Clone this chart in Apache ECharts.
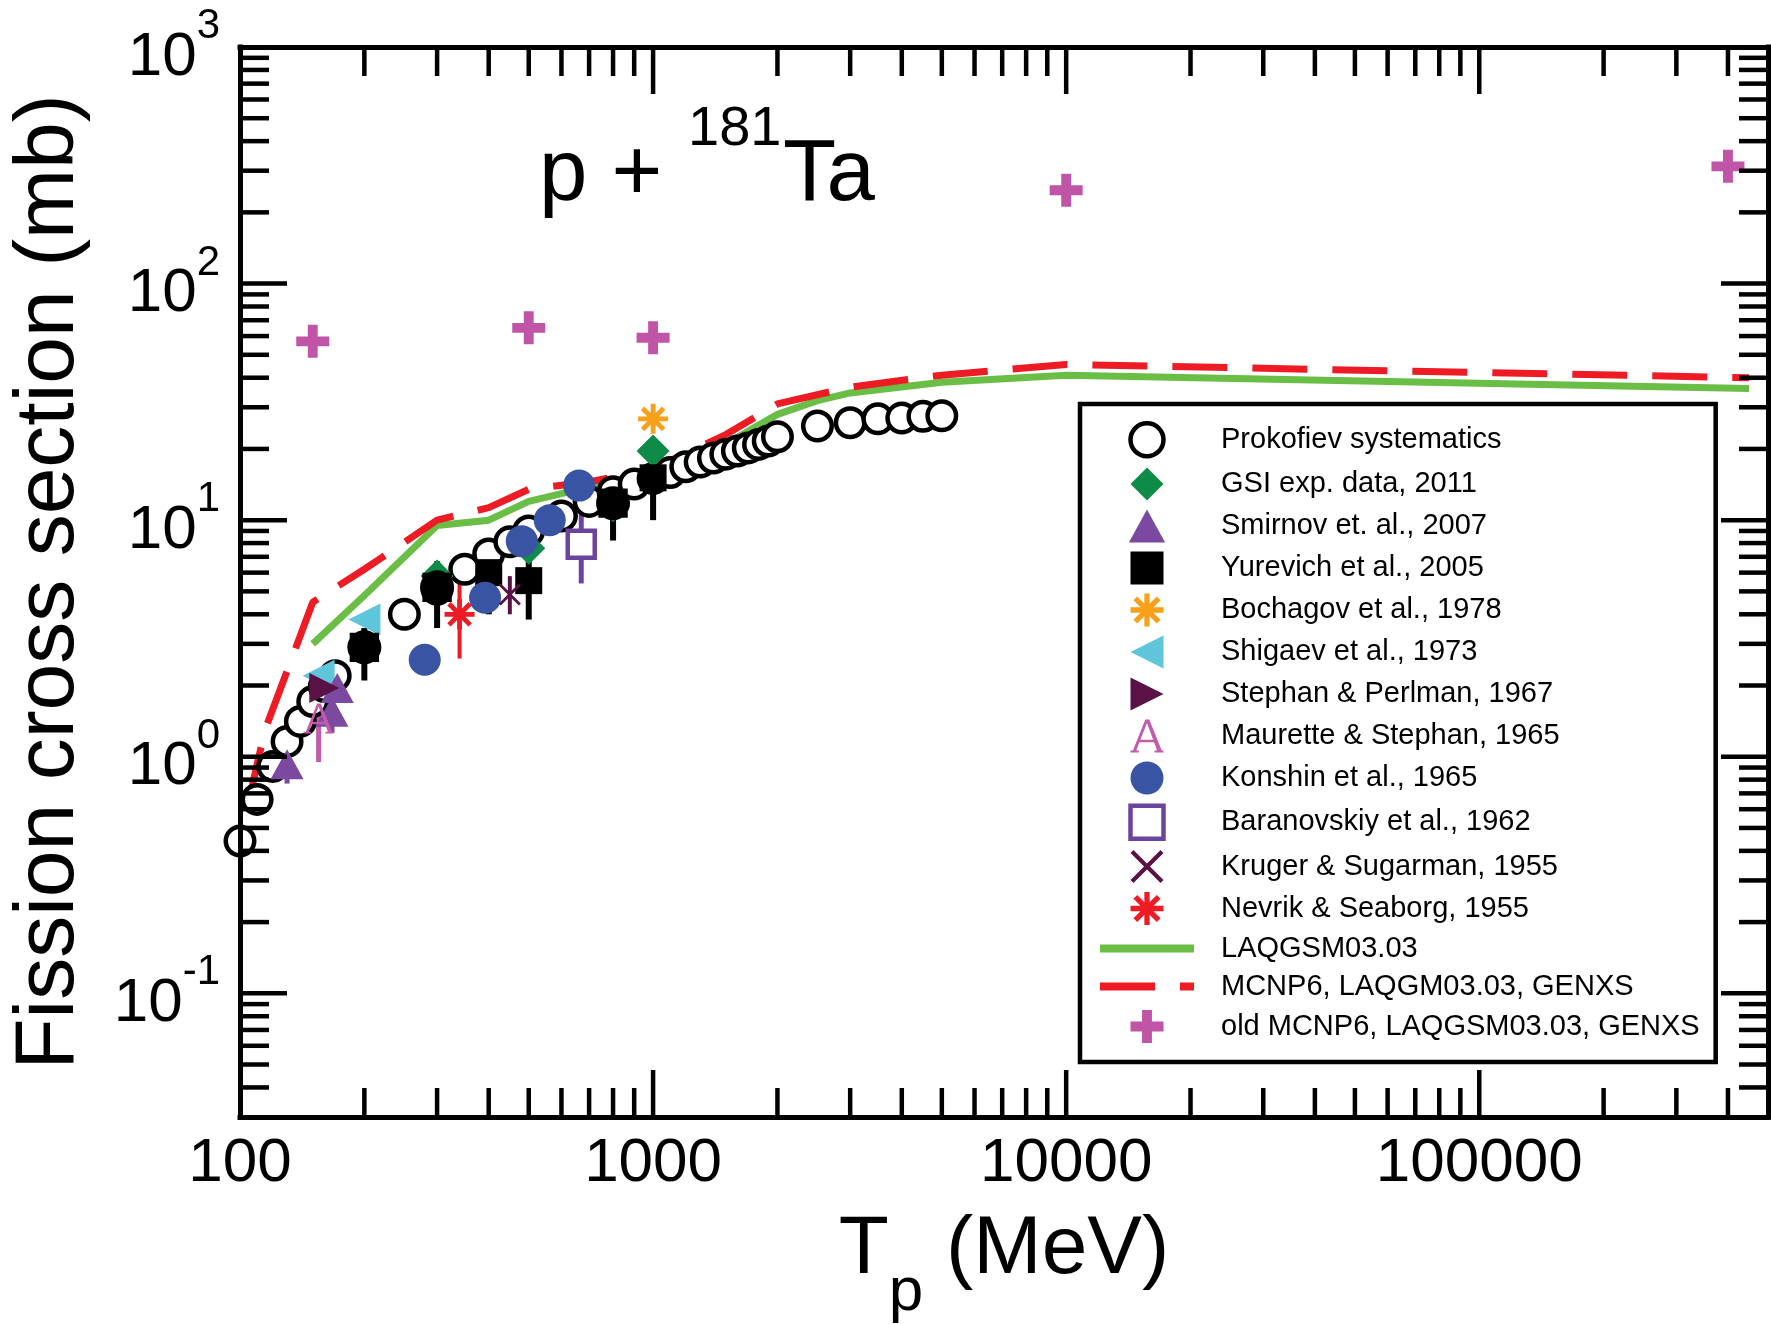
<!DOCTYPE html>
<html>
<head>
<meta charset="utf-8">
<script src="https://cdn.jsdelivr.net/npm/echarts@6/dist/echarts.min.js"></script>
<style>html,body{margin:0;padding:0;background:#fff}#c{width:1771px;height:1324px}</style>
</head>
<body>
<div id="c"></div>
<script>
// ---------------- data ----------------
const prokE  = [100,110,120,130,140,150,160,170,200,250,300,350,400,450,500,600,700,800,900,1000,1100,1200,1300,1400,1500,1600,1700,1800,1900,2000,2500,3000,3500,4000,4500,5000];
const prokXS = [0.44,0.66,0.91,1.16,1.41,1.71,1.98,2.2,2.9,4.0,5.1,6.2,7.2,8.1,9.0,10.4,12.0,13.2,14.2,15.0,15.9,16.8,17.6,18.3,19.0,19.6,20.2,20.9,21.6,22.5,25.0,25.8,26.8,27.0,27.5,27.6];

const gsiE  = [300,500,800,1000];
const gsiXS = [5.8,7.6,11.5,19.6];

const smirE  = [130,167,172];
const smirXS = [0.93,1.55,1.95];
const smirErrE = [130,167];
const smirLo   = [0.77,1.26];
const smirHi   = [1.12,1.85];

const yurE  = [200,300,400,500,800,1000];
const yurXS = [2.9,5.2,6.0,5.55,11.8,15.1];
const yurLo = [2.1,3.5,4.0,3.8,8.2,10.0];
const yurHi = [3.5,6.7,7.5,7.0,14.6,19.6];

const bochE  = [1000];
const bochXS = [26.8];

const shigE  = [155,200];
const shigXS = [2.2,3.8];

const stepE  = [160];
const stepXS = [1.95];

const maurE  = [155];
const maurXS = [1.45];
const maurLo = [0.95];
const maurHi = [2.2];

const konE  = [280,392,481,562,662];
const konXS = [2.57,4.7,8.15,10.0,14.0];

const barE  = [670];
const barXS = [7.9];
const barLo = [5.4];
const barHi = [10.6];

const kruE  = [450];
const kruXS = [4.85];
const kruLo = [4.0];
const kruHi = [5.8];

const nevE  = [340];
const nevXS = [4.0];
const nevLo = [2.6];
const nevHi = [5.5];

const laqE  = [150,200,300,400,500,700,1000,1500,2000,2500,3000,5000,10000,450000];
const laqXS = [3.0,4.8,9.5,10.0,12.0,13.8,15.0,21,28,32,34.5,38.3,41,36];

const mcnpE  = [105,115,130,150,200,300,400,500,700,1000,1500,2000,3000,5000,10000,450000];
const mcnpXS = [0.65,1.3,2.3,4.5,6.2,10,11.3,13.5,14.5,16.5,23,31,36.5,41,45.5,40];

const oldE  = [150,500,1000,10000,400000];
const oldXS = [57,65,59,248,313];

const xLabelValues = [100,1000,10000,100000];
const xMajorTicks = [1000,10000,100000];
const xMinorTicks = [200,300,400,500,600,700,800,900,2000,3000,4000,5000,6000,7000,8000,9000,
                     20000,30000,40000,50000,60000,70000,80000,90000,200000,300000,400000];
const yMajorTicks = [0.1,1,10,100];
const yMinorTicks = [0.04,0.05,0.06,0.07,0.08,0.09,0.2,0.3,0.4,0.5,0.6,0.7,0.8,0.9,
                     2,3,4,5,6,7,8,9,20,30,40,50,60,70,80,90,200,300,400,500,600,700,800,900];

const legendNames = ['Prokofiev systematics','GSI exp. data, 2011','Smirnov et. al., 2007','Yurevich et al., 2005',
  'Bochagov et al., 1978','Shigaev et al., 1973','Stephan & Perlman, 1967','Maurette & Stephan, 1965',
  'Konshin et al., 1965','Baranovskiy et al., 1962','Kruger & Sugarman, 1955','Nevrik & Seaborg, 1955',
  'LAQGSM03.03','MCNP6, LAQGM03.03, GENXS','old MCNP6, LAQGSM03.03, GENXS'];

// ---------------- helpers / styles ----------------
const FONT = "'Liberation Sans', Arial, Helvetica, sans-serif";
const pair = (xs, ys) => xs.map((x, i) => [x, ys[i]]);
const trip = (xs, lo, hi) => xs.map((x, i) => [x, lo[i], hi[i]]);

const P_AST = 'path://M0,42L100,42L100,58L0,58Z M42,0L58,0L58,100L42,100Z M9,20.3L20.3,9L91,79.7L79.7,91Z M79.7,9L91,20.3L20.3,91L9,79.7Z';
const P_X = 'path://M0,9L9,0L100,91L91,100Z M91,0L100,9L9,100L0,91Z';
const P_PLUS = 'path://M35,0L65,0L65,35L100,35L100,65L65,65L65,100L35,100L35,65L0,65L0,35L35,35Z';
const P_A = 'path://M45,0L54,0L15,100L5,100Z M46,0L57,0L97,100L83,100Z M24,61L76,61L76,69L24,69Z M0,94L25,94L25,100L0,100Z M73,94L100,94L100,100L73,100Z';
const P_BLOB = 'path://M50,6C74.3,6 94,25.7 94,50C94,74.3 74.3,94 50,94C25.7,94 6,74.3 6,50C6,25.7 25.7,6 50,6Z M12,12L88,12L88,88L12,88Z';
const P_DIAMOND = 'path://M50,0L100,50L50,100L0,50Z';
const P_TRI_UP = 'path://M55,0L110,100L0,100Z';
const P_TRI_LEFT = 'path://M0,50L100,0L100,100Z';
const P_TRI_RIGHT = 'path://M0,0L100,50L0,100Z';
const P_SQUARE = 'path://M0,0L100,0L100,100L0,100Z';
const blobAt = [200, 300, 800];

const TICK_W = 4.5, MAJOR_LEN = 47, MINOR_LEN = 29;

function xTicks(vals, len, name) {
  return {
    type: 'custom', name: name, coordinateSystem: 'cartesian2d', silent: true, z: 10,
    data: vals.map(v => [v, 1]),
    renderItem: function (params, api) {
      const cs = params.coordSys;
      const x = api.coord([api.value(0), 1])[0];
      const yb = cs.y + cs.height, yt = cs.y;
      return { type: 'group', children: [
        { type: 'line', shape: { x1: x, y1: yb, x2: x, y2: yb - len }, style: { stroke: '#000', lineWidth: TICK_W } },
        { type: 'line', shape: { x1: x, y1: yt, x2: x, y2: yt + len }, style: { stroke: '#000', lineWidth: TICK_W } }
      ]};
    }
  };
}
function yTicks(vals, len, name) {
  return {
    type: 'custom', name: name, coordinateSystem: 'cartesian2d', silent: true, z: 10,
    data: vals.map(v => [1000, v]),
    renderItem: function (params, api) {
      const cs = params.coordSys;
      const y = api.coord([1000, api.value(1)])[1];
      const xl = cs.x, xr = cs.x + cs.width;
      return { type: 'group', children: [
        { type: 'line', shape: { x1: xl, y1: y, x2: xl + len, y2: y }, style: { stroke: '#000', lineWidth: TICK_W } },
        { type: 'line', shape: { x1: xr, y1: y, x2: xr - len, y2: y }, style: { stroke: '#000', lineWidth: TICK_W } }
      ]};
    }
  };
}
function errBars(data, color, width, name) {
  return {
    type: 'custom', name: name, coordinateSystem: 'cartesian2d', silent: true, z: 2,
    encode: { x: 0, y: [1, 2] },
    data: data,
    renderItem: function (params, api) {
      const a = api.coord([api.value(0), api.value(1)]);
      const b = api.coord([api.value(0), api.value(2)]);
      return { type: 'line', shape: { x1: a[0], y1: a[1], x2: b[0], y2: b[1] }, style: { stroke: color, lineWidth: width } };
    }
  };
}
function scatter(name, data, symbol, size, itemStyle, extra) {
  return Object.assign({ type: 'scatter', name: name, data: data, symbol: symbol, symbolSize: size,
    symbolKeepAspect: true,
    itemStyle: Object.assign({ opacity: 1 }, itemStyle), z: 2, animation: false }, extra || {});
}

const C = {
  black: '#000000', green: '#6abd45', red: '#ed1c24', gsi: '#0e8b46', smir: '#7b4aa0',
  boch: '#f7a11a', shig: '#5ec5da', maroon: '#5a1246', maur: '#c25bab', kon: '#3a54a4',
  bar: '#6b44a0', plus: '#c055a8'
};

const yurData = yurE.map((e, i) => blobAt.indexOf(e) >= 0
  ? { value: [e, yurXS[i]], symbol: P_BLOB, symbolSize: 34 }
  : { value: [e, yurXS[i]] });

const series = [
  scatter(legendNames[0], pair(prokE, prokXS), 'circle', 28.5, { color: '#fff', borderColor: C.black, borderWidth: 4.5 }),
  { type: 'line', name: legendNames[12], data: pair(laqE, laqXS), symbol: 'none', z: 2,
    lineStyle: { color: C.green, width: 7, opacity: 1 }, itemStyle: { color: C.green } },
  { type: 'line', name: legendNames[13], data: pair(mcnpE, mcnpXS), symbol: 'none', z: 2,
    lineStyle: { color: C.red, width: 7, type: [55, 25], cap: 'butt', opacity: 1 }, itemStyle: { color: C.red } },
  scatter(legendNames[1], pair(gsiE, gsiXS), P_DIAMOND, 33, { color: C.gsi }),
  errBars(trip(smirErrE, smirLo, smirHi), C.smir, 5, '_e1'),
  errBars(trip(yurE, yurLo, yurHi), C.black, 6, '_e2'),
  errBars(trip(maurE, maurLo, maurHi), C.maur, 5, '_e3'),
  errBars(trip(barE, barLo, barHi), C.bar, 5, '_e4'),
  errBars(trip(kruE, kruLo, kruHi), C.maroon, 4, '_e5'),
  errBars(trip(nevE, nevLo, nevHi), C.red, 4, '_e6'),
  scatter(legendNames[5], pair(shigE, shigXS), P_TRI_LEFT, 32, { color: C.shig }),
  scatter(legendNames[2], pair(smirE, smirXS), P_TRI_UP, 33, { color: C.smir }),
  scatter(legendNames[3], yurData, P_SQUARE, 27, { color: C.black }),
  scatter(legendNames[4], pair(bochE, bochXS), P_AST, 30, { color: C.boch }),
  scatter(legendNames[6], pair(stepE, stepXS), P_TRI_RIGHT, 30, { color: C.maroon }),
  scatter(legendNames[7], pair(maurE, maurXS), P_A, 30, { color: C.maur }),
  scatter(legendNames[8], pair(konE, konXS), 'circle', 32, { color: C.kon }),
  scatter(legendNames[9], pair(barE, barXS), P_SQUARE, 27, { color: '#fff', borderColor: C.bar, borderWidth: 4.5 }),
  scatter(legendNames[10], pair(kruE, kruXS), P_X, 22, { color: C.maroon }),
  scatter(legendNames[11], pair(nevE, nevXS), P_AST, 30, { color: C.red }),
  scatter(legendNames[14], pair(oldE, oldXS), P_PLUS, 33, { color: C.plus }),
  xTicks(xMinorTicks, MINOR_LEN, '_xm'),
  xTicks(xMajorTicks, MAJOR_LEN, '_xM'),
  yTicks(yMinorTicks, MINOR_LEN, '_ym'),
  yTicks(yMajorTicks, MAJOR_LEN, '_yM')
];

const legendData = legendNames.map(n => ({ name: n }));
legendData.forEach(d => { d.itemStyle = { opacity: 1 }; });
legendData[0].itemStyle = { borderWidth: 4.5, opacity: 1 };
legendData[9].itemStyle = { borderWidth: 4.5, opacity: 1 };
legendData[12].itemStyle = { opacity: 0 };
legendData[12].lineStyle = { width: 8, type: 'solid', color: C.green };
legendData[13].itemStyle = { opacity: 0 };
legendData[13].lineStyle = { width: 8, type: [55, 25], color: C.red };

const isPow10 = v => Math.abs(Math.log10(v) - Math.round(Math.log10(v))) < 1e-6;
const axisLineStyle = { show: true, lineStyle: { color: '#000', width: 5, cap: 'square' } };

const option = {
  animation: false,
  backgroundColor: '#fff',
  textStyle: { fontFamily: FONT },
  grid: { left: 240, right: 3, top: 47, bottom: 207, containLabel: false, outerBoundsMode: 'none' },
  xAxis: [
    { type: 'log', logBase: 10, min: 100, max: 500000, position: 'bottom', z: 10,
      axisLine: axisLineStyle, axisTick: { show: false }, splitLine: { show: false }, minorTick: { show: false },
      axisLabel: { show: true, margin: 16, fontSize: 62, fontFamily: FONT, color: '#000',
        formatter: v => (isPow10(v) && xLabelValues.indexOf(Math.round(v)) >= 0) ? String(Math.round(v)) : '' },
      name: '{t|T}{sub|p}{t| (MeV)}', nameLocation: 'middle', nameGap: 92,
      nameTextStyle: { rich: {
        t: { fontSize: 82, fontFamily: FONT, color: '#000', verticalAlign: 'top' },
        sub: { fontSize: 62, fontFamily: FONT, color: '#000', verticalAlign: 'top', padding: [53, 0, 0, 0] }
      } } },
    { type: 'log', logBase: 10, min: 100, max: 500000, position: 'top', z: 10,
      axisLine: axisLineStyle, axisTick: { show: false }, splitLine: { show: false }, axisLabel: { show: false } }
  ],
  yAxis: [
    { type: 'log', logBase: 10, min: 0.03, max: 1000, position: 'left', z: 10,
      axisLine: axisLineStyle, axisTick: { show: false }, splitLine: { show: false }, minorTick: { show: false },
      axisLabel: { show: true, margin: 20, color: '#000',
        formatter: v => isPow10(v) ? '{b|10}{s|' + Math.round(Math.log10(v)) + '}' : '',
        rich: {
          b: { fontSize: 62, fontFamily: FONT, color: '#000', verticalAlign: 'bottom', padding: [0, 0, 0, 0] },
          s: { fontSize: 42, fontFamily: FONT, color: '#000', verticalAlign: 'bottom', padding: [0, 0, 41, 0] }
        } },
      name: 'Fission cross section (mb)', nameLocation: 'middle', nameGap: 148,
      nameTextStyle: { fontSize: 84, fontFamily: FONT, color: '#000' } },
    { type: 'log', logBase: 10, min: 0.03, max: 1000, position: 'right', z: 10,
      axisLine: axisLineStyle, axisTick: { show: false }, splitLine: { show: false }, axisLabel: { show: false } }
  ],
  legend: {
    orient: 'vertical', left: 1080, top: 404, selectedMode: false,
    padding: [17, 16, 19, 16], itemWidth: 94, itemHeight: 33, itemGap: 9,
    symbolKeepAspect: true,
    backgroundColor: '#fff', borderColor: '#000', borderWidth: 4.5,
    textStyle: { fontSize: 29, fontFamily: FONT, color: '#000', padding: [0, 0, 0, 22] },
    data: legendData
  },
  graphic: [
    { type: 'text', x: 539, y: 176.5, silent: true, z: 20,
      style: { text: 'p + ', fontSize: 87, fontFamily: FONT, fill: '#000', verticalAlign: 'middle', align: 'left' } },
    { type: 'text', x: 688, y: 130, silent: true, z: 20,
      style: { text: '181', fontSize: 56, fontFamily: FONT, fill: '#000', verticalAlign: 'middle', align: 'left' } },
    { type: 'text', x: 783, y: 176.5, silent: true, z: 20,
      style: { text: 'Ta', fontSize: 87, fontFamily: FONT, fill: '#000', verticalAlign: 'middle', align: 'left' } }
  ],
  series: series
};

const chart = echarts.init(document.getElementById('c'), null, { renderer: 'canvas', width: 1771, height: 1324 });
chart.setOption(option);
</script>
</body>
</html>
